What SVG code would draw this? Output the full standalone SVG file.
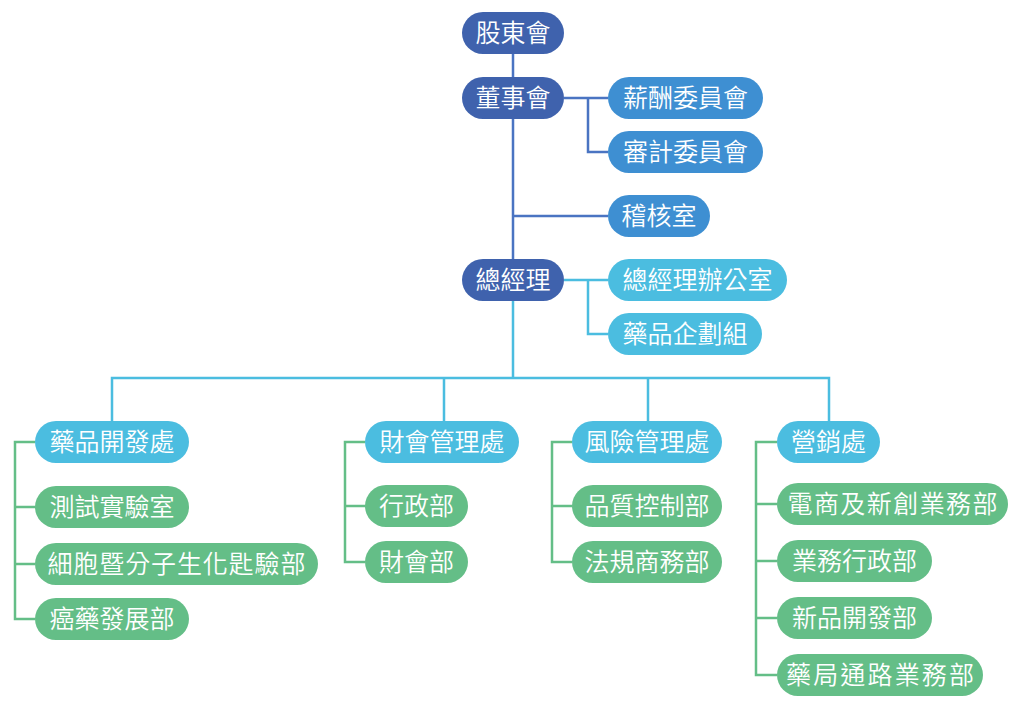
<svg xmlns="http://www.w3.org/2000/svg" width="1024" height="707" viewBox="0 0 1024 707">
<style>
.t{font-family:"Noto Sans CJK TC","Noto Sans CJK SC",sans-serif;font-size:25px;font-weight:350;fill:#fff;text-anchor:middle}
.d{fill:#3F62AD}.b{fill:#3E8FD2}.c{fill:#4BBDE0}.g{fill:#64BE87}
.lb{fill:none;stroke:#4A74C2;stroke-width:2.5}
.lc{fill:none;stroke:#4BBDE0;stroke-width:2.5}
.lg{fill:none;stroke:#64BE87;stroke-width:2.5}
</style>
<rect width="1024" height="707" fill="#fff"/>
<g id="connectors">
<path class="lb" d="M513 54V259M564 98H608M588 98V152H608M513 216H608"/>
<path class="lc" d="M564 280H608M588 280V334H608M513 301V378M112 421V378H829V421M444 378V421M648 378V421"/>
<path class="lg" d="M35 442H15V619H35M15 507H35M15 564H35M365 442H345V562H365M345 506H365M572 442H552V562H572M552 506H572M777 442H756V675H777M756 504H777M756 561H777M756 618H777"/>
</g>
<g id="n1"><rect class="d" x="462" y="12" width="102" height="42" rx="21"/><text class="t" x="513" y="42">股東會</text></g>
<g id="n2"><rect class="d" x="462" y="77" width="102" height="42" rx="21"/><text class="t" x="513" y="107">董事會</text></g>
<g id="n3"><rect class="b" x="608" y="77" width="155" height="42" rx="21"/><text class="t" x="685.5" y="107">薪酬委員會</text></g>
<g id="n4"><rect class="b" x="608" y="131" width="155" height="42" rx="21"/><text class="t" x="685.5" y="161">審計委員會</text></g>
<g id="n5"><rect class="b" x="608" y="195" width="102" height="42" rx="21"/><text class="t" x="659" y="225">稽核室</text></g>
<g id="n6"><rect class="d" x="462" y="259" width="102" height="42" rx="21"/><text class="t" x="513" y="289">總經理</text></g>
<g id="n7"><rect class="c" x="608" y="259" width="179" height="42" rx="21"/><text class="t" x="697.5" y="289">總經理辦公室</text></g>
<g id="n8"><rect class="c" x="608" y="313" width="154" height="42" rx="21"/><text class="t" x="685" y="343">藥品企劃組</text></g>
<g id="n9"><rect class="c" x="35" y="421" width="154" height="42" rx="21"/><text class="t" x="112" y="451">藥品開發處</text></g>
<g id="n10"><rect class="c" x="365" y="421" width="154" height="42" rx="21"/><text class="t" x="442" y="451">財會管理處</text></g>
<g id="n11"><rect class="c" x="572" y="421" width="150" height="42" rx="21"/><text class="t" x="647" y="451">風險管理處</text></g>
<g id="n12"><rect class="c" x="777" y="421" width="103" height="42" rx="21"/><text class="t" x="828.5" y="451">營銷處</text></g>
<g id="n13"><rect class="g" x="35" y="486" width="154" height="42" rx="21"/><text class="t" x="112" y="516">測試實驗室</text></g>
<g id="n14"><rect class="g" x="35" y="543" width="283" height="42" rx="21"/><text class="t" x="176.5" y="573" textLength="258" lengthAdjust="spacing">細胞暨分子生化匙驗部</text></g>
<g id="n15"><rect class="g" x="35" y="598" width="154" height="42" rx="21"/><text class="t" x="112" y="628">癌藥發展部</text></g>
<g id="n16"><rect class="g" x="365" y="485" width="103" height="42" rx="21"/><text class="t" x="416.5" y="515">行政部</text></g>
<g id="n17"><rect class="g" x="365" y="541" width="103" height="42" rx="21"/><text class="t" x="416.5" y="571">財會部</text></g>
<g id="n18"><rect class="g" x="572" y="485" width="150" height="42" rx="21"/><text class="t" x="647" y="515">品質控制部</text></g>
<g id="n19"><rect class="g" x="572" y="541" width="150" height="42" rx="21"/><text class="t" x="647" y="571">法規商務部</text></g>
<g id="n20"><rect class="g" x="777" y="483" width="231" height="42" rx="21"/><text class="t" x="892.5" y="513" textLength="210" lengthAdjust="spacing">電商及新創業務部</text></g>
<g id="n21"><rect class="g" x="777" y="540" width="155" height="42" rx="21"/><text class="t" x="854.5" y="570">業務行政部</text></g>
<g id="n22"><rect class="g" x="777" y="597" width="155" height="42" rx="21"/><text class="t" x="854.5" y="627">新品開發部</text></g>
<g id="n23"><rect class="g" x="777" y="654" width="206" height="42" rx="21"/><text class="t" x="880" y="684" textLength="188" lengthAdjust="spacing">藥局通路業務部</text></g>
</svg>
